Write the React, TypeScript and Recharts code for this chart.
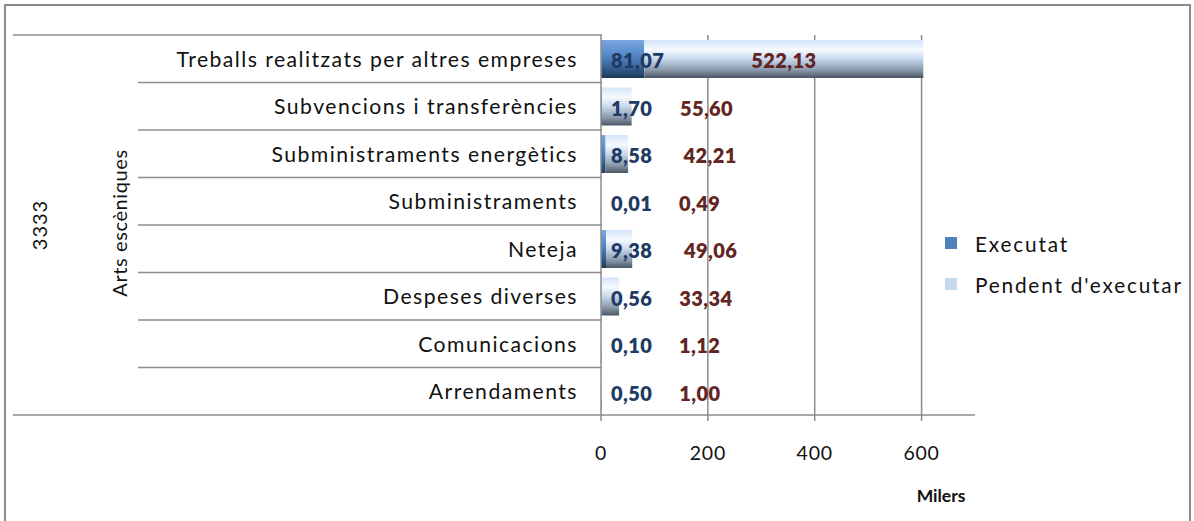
import { BarChart, Bar, XAxis, YAxis, CartesianGrid, Legend, LabelList } from 'recharts';

const categories = [
  'Treballs realitzats per altres empreses',
  'Subvencions i transferències',
  'Subministraments  energètics',
  'Subministraments',
  'Neteja',
  'Despeses diverses',
  'Comunicacions',
  'Arrendaments',
];
const executat = [81.07, 1.7, 8.58, 0.01, 9.38, 0.56, 0.1, 0.5];
const pendent = [522.13, 55.6, 42.21, 0.49, 49.06, 33.34, 1.12, 1.0];
const xTicks = [0, 200, 400, 600];
const xMax = 700;

const data = categories.map((name, i) => ({ name, executat: executat[i], pendent: pendent[i] }));

const FONT = 'Lato, "Open Sans", sans-serif';
const GRID = '#8c8c8c';
const fmt = (v: number) => v.toFixed(2).replace('.', ',');

function CategoryTick(props: any) {
  const { x, y, payload, index } = props;
  const half = payload && payload.offset ? payload.offset : 23.75;
  const axisX = x + 24;
  return (
    <g>
      <text x={x} y={y} textAnchor="end" dominantBaseline="central" fontFamily={FONT} fontSize={21.2} fill="#111" letterSpacing={1.45}>
        {payload.value}
      </text>
      {index === 0 ? (
        <line x1={13} x2={axisX} y1={y - half} y2={y - half} stroke={GRID} strokeWidth={1.5} />
      ) : (
        <line x1={138} x2={axisX} y1={y - half} y2={y - half} stroke={GRID} strokeWidth={1.5} />
      )}
      {index === categories.length - 1 && (
        <line x1={13} x2={axisX} y1={y + half} y2={y + half} stroke={GRID} strokeWidth={1.5} />
      )}
    </g>
  );
}

function ValueTick(props: any) {
  const { x, y, payload } = props;
  return (
    <text x={x} y={y + 29} textAnchor="middle" dominantBaseline="central" fontFamily={FONT} fontSize={19.5} fill="#111" letterSpacing={0.8}>
      {payload.value}
    </text>
  );
}

function ExecLabel(props: any) {
  const { x, y, height, value } = props;
  return (
    <text x={x + 10} y={y + height / 2 + 1} dominantBaseline="central" fontFamily={FONT} fontWeight={800} fontSize={20} fill="#1f3b64" letterSpacing={0.4}>
      {fmt(value)}
    </text>
  );
}

function PendLabel(props: any) {
  const { x, y, width, height, value } = props;
  const big = width > 150;
  return (
    <text
      x={big ? x + width / 2 : x + 78}
      y={y + height / 2 + 1}
      textAnchor={big ? 'middle' : 'start'}
      dominantBaseline="central"
      fontFamily={FONT}
      fontWeight={800}
      fontSize={20}
      letterSpacing={0.4}
      fill="#632523"
    >
      {fmt(value)}
    </text>
  );
}

function LegendBox() {
  const items = [
    { label: 'Executat', color: '#4f81bd' },
    { label: "Pendent d'executar", color: '#c6d9f1' },
  ];
  return (
    <div style={{ marginLeft: -30, marginTop: 6, fontFamily: FONT, fontSize: 20.8, color: '#111', letterSpacing: 1.8 }}>
      {items.map((it) => (
        <div key={it.label} style={{ display: 'flex', alignItems: 'center', height: 41 }}>
          <span style={{ display: 'inline-block', width: 12, height: 12, background: it.color, marginRight: 18 }} />
          {it.label}
        </div>
      ))}
    </div>
  );
}

const gridX = ({ xAxis, offset }: any) =>
  xTicks.slice(1).map((t) =>
    xAxis && typeof xAxis.scale === 'function'
      ? xAxis.scale(t)
      : offset.left + (t / xMax) * offset.width
  );

export default function App() {
  return (
    <div style={{ position: 'absolute', left: 0, top: 0, width: 1194, height: 521, background: '#fff' }}>
      <svg width={1194} height={521} style={{ position: 'absolute', left: 0, top: 0 }}>
        <rect x={5} y={5} width={1185} height={530} fill="none" stroke="#8c8c8c" strokeWidth={2} />
        <text transform="translate(47,225) rotate(-90)" textAnchor="middle" fontFamily={FONT} fontSize={20} fill="#111" letterSpacing={1}>
          3333
        </text>
        <text transform="translate(127,223) rotate(-90)" textAnchor="middle" fontFamily={FONT} fontSize={20} fill="#111" letterSpacing={0.6}>
          Arts escèniques
        </text>
      </svg>
      <div style={{ position: 'absolute', left: 0, top: 0 }}>
        <BarChart
          width={1194}
          height={521}
          data={data}
          layout="vertical"
          margin={{ top: 35, right: 0, bottom: 46, left: 138 }}
        >
          <defs>
            <linearGradient id="gExec" x1="0" y1="0" x2="0" y2="1">
              <stop offset="0%" stopColor="#7ba7dd" />
              <stop offset="30%" stopColor="#5d90d0" />
              <stop offset="65%" stopColor="#3d6ca4" />
              <stop offset="100%" stopColor="#1e3858" />
            </linearGradient>
            <linearGradient id="gPend" x1="0" y1="0" x2="0" y2="1">
              <stop offset="0%" stopColor="#d3e4f9" />
              <stop offset="25%" stopColor="#f6faff" />
              <stop offset="50%" stopColor="#c8d9ee" />
              <stop offset="80%" stopColor="#8796a8" />
              <stop offset="100%" stopColor="#4a5664" />
            </linearGradient>
          </defs>
          <CartesianGrid horizontal={false} stroke={GRID} strokeWidth={1.5} verticalCoordinatesGenerator={gridX} />
          <XAxis
            type="number"
            domain={[0, xMax]}
            ticks={xTicks}
            height={60}
            stroke={GRID}
            strokeWidth={1.5}
            tickSize={6}
            tick={<ValueTick />}
            label={({ viewBox }: any) => (
              <text
                x={viewBox.x + viewBox.width - 34}
                y={viewBox.y + 80}
                textAnchor="middle"
                dominantBaseline="central"
                fontFamily={FONT}
                fontWeight={700}
                fontSize={17.5}
                fill="#111"
              >
                Milers
              </text>
            )}
          />
          <YAxis
            type="category"
            dataKey="name"
            width={463}
            stroke={GRID}
            strokeWidth={1.5}
            tickLine={false}
            tickMargin={17}
            tick={<CategoryTick />}
            interval={0}
          />
          <Legend
            layout="vertical"
            align="right"
            verticalAlign="middle"
            width={219}
            content={<LegendBox />}
          />
          <Bar dataKey="executat" name="Executat" stackId="a" barSize={38} fill="url(#gExec)" isAnimationActive={false}>
            <LabelList dataKey="executat" content={<ExecLabel />} />
          </Bar>
          <Bar dataKey="pendent" name="Pendent d'executar" stackId="a" barSize={38} fill="url(#gPend)" isAnimationActive={false}>
            <LabelList dataKey="pendent" content={<PendLabel />} />
          </Bar>
        </BarChart>
      </div>
    </div>
  );
}
